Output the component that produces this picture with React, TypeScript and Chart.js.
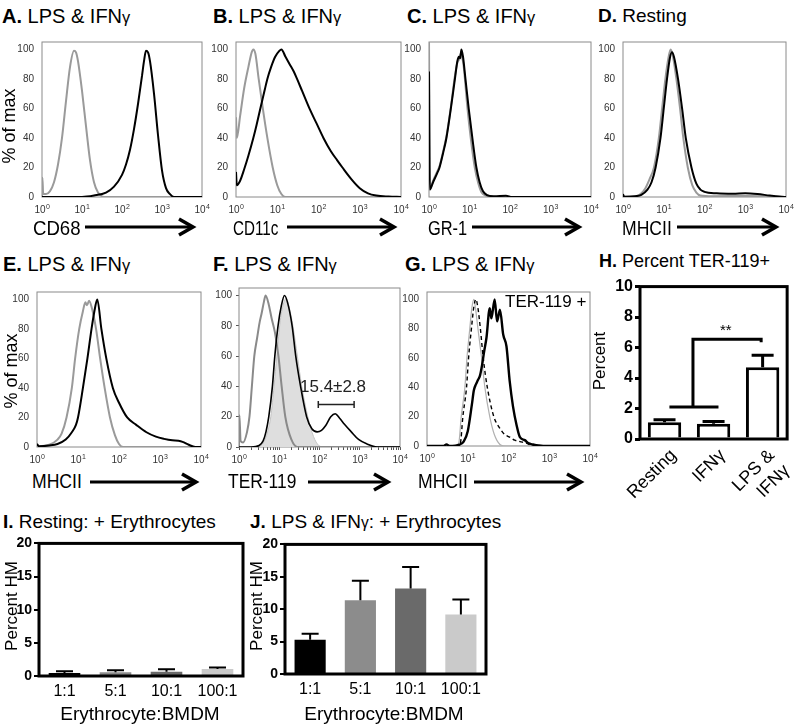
import React, { useEffect, useRef } from 'react';
import { Chart, registerables } from 'chart.js';
Chart.register(...registerables);

const FONT = '"Liberation Sans", Arial, Helvetica, sans-serif';

// ---------------- data ----------------
const X_DECADES = [1, 10, 100, 1000, 10000];
const X_EXPONENTS = ['0', '1', '2', '3', '4'];
const Y_PCT_TICKS = [0, 20, 40, 60, 80, 100];

type Pt = [number, number]; // [log10 fluorescence, % of max]

const A_ISO: Pt[] = [[0,0],[0.01,13],[0.03,2],[0.1,2],[0.2,4],[0.3,10],[0.4,22],[0.5,40],[0.6,65],[0.7,88],[0.8,99],[0.85,98],[0.9,92],[1.0,72],[1.1,48],[1.2,25],[1.3,10],[1.4,3],[1.5,0.5],[1.6,0],[4,0]];
const A_CD68: Pt[] = [[0,0],[1.0,0],[1.3,1],[1.6,3],[1.8,7],[2.0,15],[2.1,22],[2.2,32],[2.3,46],[2.4,63],[2.5,82],[2.55,92],[2.6,99],[2.65,98],[2.7,92],[2.8,70],[2.9,42],[3.0,18],[3.1,6],[3.2,2],[3.3,0],[4,0]];

const B_ISO: Pt[] = [[0,54],[0.02,40],[0.1,55],[0.2,74],[0.3,88],[0.38,98],[0.42,100],[0.47,97],[0.55,80],[0.65,60],[0.76,40],[0.89,20],[1.0,8],[1.1,2],[1.2,0],[4,0]];
const B_CD11C: Pt[] = [[0,17],[0.02,8],[0.1,11],[0.2,19],[0.3,28],[0.42,40],[0.5,49],[0.59,60],[0.7,73],[0.76,80],[0.85,88],[0.95,95],[1.05,99],[1.1,100],[1.2,95],[1.3,90],[1.4,85],[1.48,80],[1.6,72],[1.78,60],[1.95,50],[2.12,40],[2.3,31],[2.45,25],[2.58,20],[2.8,12],[3.0,6],[3.2,2.5],[3.4,1],[3.7,0.3],[4,0]];

const C_ISO: Pt[] = [[0,107],[0.02,5],[0.1,11],[0.2,17],[0.26,21],[0.35,31],[0.43,41],[0.54,61],[0.64,82],[0.7,91],[0.74,93],[0.78,97],[0.8,96],[0.85,90],[0.95,60],[1.03,40],[1.13,20],[1.22,9],[1.3,3],[1.4,1],[1.5,0],[4,0]];
const C_GR1: Pt[] = [[0,85],[0.02,5],[0.1,10],[0.2,16],[0.26,20],[0.35,30],[0.43,40],[0.54,60],[0.64,80],[0.7,92],[0.74,95],[0.77,94],[0.8,100],[0.84,95],[0.9,80],[0.98,60],[1.07,40],[1.17,20],[1.25,10],[1.33,4],[1.42,1.5],[1.6,0.5],[1.9,0.8],[2.05,0],[4,0]];

const D_ISO: Pt[] = [[0,1],[0.05,0.5],[0.3,0.5],[0.43,2],[0.55,6],[0.65,12],[0.76,20],[0.88,40],[0.96,60],[1.04,80],[1.12,95],[1.17,100],[1.22,96],[1.31,80],[1.4,60],[1.48,40],[1.59,20],[1.7,8],[1.8,3],[1.9,1],[2.2,0.5],[3.0,0.7],[3.5,0.5],[3.9,0],[4,0]];
const D_MHCII: Pt[] = [[0,2],[0.03,0],[0.3,0.5],[0.45,1.5],[0.6,5],[0.7,10],[0.8,20],[0.92,40],[1.0,60],[1.08,80],[1.15,94],[1.2,98],[1.25,95],[1.35,80],[1.45,60],[1.54,40],[1.68,20],[1.8,9],[1.9,5],[2.0,3.5],[2.3,2.5],[2.7,2.2],[3.0,2.5],[3.3,2],[3.6,1],[3.9,0.2],[4,0]];

const E_ISO: Pt[] = [[0,2],[0.05,0.5],[0.3,1.5],[0.5,5],[0.6,9],[0.72,20],[0.85,40],[0.93,60],[1.03,80],[1.12,92],[1.18,98],[1.22,96],[1.27,99],[1.33,95],[1.44,80],[1.54,60],[1.65,40],[1.78,20],[1.9,8],[2.0,2],[2.1,0],[4,0]];
const E_MHCII: Pt[] = [[0,2],[0.05,0.5],[0.3,1],[0.5,2],[0.7,5],[0.85,10],[0.95,15],[1.0,20],[1.12,40],[1.23,60],[1.33,80],[1.4,92],[1.47,100],[1.57,80],[1.69,60],[1.85,40],[2.0,30],[2.2,20],[2.42,15],[2.67,10],[2.9,7],[3.1,5.5],[3.3,4.5],[3.45,4.2],[3.55,3.5],[3.7,1.5],[3.86,0],[4,0]];

const F_ISO: Pt[] = [[0,0],[0.01,21],[0.04,4],[0.1,3],[0.2,10],[0.26,20],[0.32,40],[0.38,60],[0.45,72],[0.51,82],[0.56,88],[0.62,96],[0.66,100],[0.74,94],[0.81,85],[0.89,76],[0.98,60],[1.06,40],[1.15,20],[1.3,5],[1.45,0],[4,0]];
const F_RESTING: Pt[] = [[0.4,0],[0.55,1],[0.65,5],[0.72,11],[0.79,20],[0.87,40],[0.94,60],[1.01,80],[1.08,92],[1.17,98],[1.25,92],[1.34,80],[1.45,60],[1.56,40],[1.71,20],[1.85,7],[1.98,1],[2.1,0]];
const F_TER119: Pt[] = [[0,0],[0.3,0],[0.5,1],[0.6,4],[0.67,10],[0.74,20],[0.83,40],[0.89,60],[0.97,80],[1.05,93],[1.13,100],[1.2,96],[1.32,80],[1.41,60],[1.53,40],[1.68,20],[1.81,12],[1.94,10],[2.05,11],[2.15,14],[2.28,20],[2.39,22],[2.5,19],[2.62,15],[2.79,10],[2.97,5],[3.18,2],[3.43,0],[4,0]];
const F_GATE = { from: 1.97, to: 2.86, level: 28 };

const G_ISO: Pt[] = [[0,0],[0.7,0],[0.78,2],[0.84,20],[0.93,40],[0.98,60],[1.05,80],[1.1,94],[1.15,100],[1.19,94],[1.25,80],[1.34,60],[1.42,40],[1.54,20],[1.65,8],[1.79,1],[1.9,0],[4,0]];
const G_NEG: Pt[] = [[0,0],[0.75,0],[0.82,2],[0.88,20],[0.97,40],[1.02,60],[1.09,80],[1.15,95],[1.2,100],[1.25,94],[1.31,80],[1.38,60],[1.48,40],[1.64,20],[1.79,12],[1.9,8],[2.03,6],[2.15,4],[2.28,3],[2.44,2],[2.6,0],[4,0]];
const G_POS: Pt[] = [[0,0],[0.4,0],[0.48,1],[0.55,0],[0.8,1],[0.9,3],[1.0,10],[1.1,28],[1.15,38],[1.2,42],[1.25,45],[1.3,48],[1.35,55],[1.4,64],[1.46,74],[1.54,94],[1.58,87],[1.66,100],[1.72,85],[1.79,93],[1.87,76],[1.95,68],[2.03,44],[2.11,27],[2.2,14],[2.28,6],[2.4,4],[2.48,2],[2.6,1],[2.85,0],[4,0]];

const H_LABELS: (string | string[])[] = ['Resting', 'IFNγ', ['LPS &', 'IFNγ']];
const H_MEAN = [1.1, 1.0, 4.7];
const H_ERR = [0.17, 0.15, 0.8];
const H_SIG = { lowFrom: 0.1, lowTo: 1.1, low: 2.1, stem: 0.58, highTo: 1.97, high: 6.55, drop: 6.35, starX: 1.25, starY: 7.1 };

const HM_LABELS = ['1:1', '5:1', '10:1', '100:1'];
const HM_COLORS = ['#000000', '#8c8c8c', '#6a6a6a', '#cacaca'];
const I_MEAN = [0.45, 0.55, 0.65, 1.05];
const I_ERR = [0.25, 0.3, 0.35, 0.25];
const J_MEAN = [5.3, 11.4, 13.2, 9.2];
const J_ERR = [0.9, 3.0, 3.3, 2.3];

const X_MINOR: number[] = [];
for (let d = 1; d < 10000; d *= 10) for (let k = 1; k < 10; k++) X_MINOR.push(k * d);
X_MINOR.push(10000);

// ---------------- layout ----------------
const HP = { yw: 34, top: 4, right: 10, xh: 22 };
type Box = { x0: number; y0: number; x1: number; y1: number };
const BOX: Record<string, Box> = {
  A: { x0: 42, y0: 32, x1: 202, y1: 197 },
  B: { x0: 236, y0: 32, x1: 401, y1: 197 },
  C: { x0: 429, y0: 32, x1: 591, y1: 197 },
  D: { x0: 623, y0: 32, x1: 786, y1: 197 },
  E: { x0: 37, y0: 282, x1: 201, y1: 447 },
  F: { x0: 239, y0: 282, x1: 400, y1: 447 },
  G: { x0: 427, y0: 282, x1: 590, y1: 446 },
};

// ---------------- plugins ----------------
const framePlugin = (color: string, width: number, after: boolean) => {
  const draw = (chart: any) => {
    const { ctx, chartArea: a } = chart;
    ctx.save();
    ctx.strokeStyle = color;
    ctx.lineWidth = width;
    ctx.strokeRect(a.left, a.top, a.right - a.left, a.bottom - a.top);
    ctx.restore();
  };
  return after ? { id: 'frame', afterDraw: draw } : { id: 'frame', beforeDatasetsDraw: draw };
};

// decade labels "10^n" with a real raised exponent
const decadeLabelPlugin = {
  id: 'decades',
  afterDraw(chart: any) {
    const { ctx } = chart;
    const xs = chart.scales.x;
    const base = chart.chartArea.bottom;
    ctx.save();
    ctx.fillStyle = '#333';
    ctx.textAlign = 'left';
    ctx.textBaseline = 'alphabetic';
    X_DECADES.forEach((v, i) => {
      const cx = xs.getPixelForValue(v);
      ctx.font = `10px ${FONT}`;
      const w1 = ctx.measureText('10').width;
      ctx.font = `7px ${FONT}`;
      const w2 = ctx.measureText(X_EXPONENTS[i]).width;
      const x0 = cx - (w1 + w2) / 2;
      ctx.font = `10px ${FONT}`;
      ctx.fillText('10', x0, base + 16);
      ctx.font = `7px ${FONT}`;
      ctx.fillText(X_EXPONENTS[i], x0 + w1 + 0.5, base + 11.5);
    });
    ctx.restore();
  },
};

const errorBarPlugin = (means: number[], errs: number[], width: number, cap: number) => ({
  id: 'errbars',
  afterDatasetsDraw(chart: any) {
    const { ctx } = chart;
    const meta = chart.getDatasetMeta(0);
    const ys = chart.scales.y;
    ctx.save();
    ctx.strokeStyle = '#000';
    ctx.lineWidth = width;
    meta.data.forEach((bar: any, i: number) => {
      const x = bar.x;
      const y0 = ys.getPixelForValue(means[i]);
      const y1 = ys.getPixelForValue(means[i] + errs[i]);
      ctx.beginPath();
      ctx.moveTo(x, y0);
      ctx.lineTo(x, y1);
      ctx.moveTo(x - cap / 2, y1);
      ctx.lineTo(x + cap / 2, y1);
      ctx.stroke();
    });
    ctx.restore();
  },
});

const sigPlugin = {
  id: 'sig',
  afterDatasetsDraw(chart: any) {
    const { ctx } = chart;
    const xs = chart.scales.x, ys = chart.scales.y;
    const X = (v: number) => xs.getPixelForValue(v);
    const Y = (v: number) => ys.getPixelForValue(v);
    ctx.save();
    ctx.strokeStyle = '#000';
    ctx.lineWidth = 3;
    ctx.beginPath();
    ctx.moveTo(X(H_SIG.lowFrom), Y(H_SIG.low));
    ctx.lineTo(X(H_SIG.lowTo), Y(H_SIG.low));
    ctx.moveTo(X(H_SIG.stem), Y(H_SIG.low));
    ctx.lineTo(X(H_SIG.stem), Y(H_SIG.high));
    ctx.lineTo(X(H_SIG.highTo), Y(H_SIG.high));
    ctx.lineTo(X(H_SIG.highTo), Y(H_SIG.drop));
    ctx.stroke();
    ctx.fillStyle = '#000';
    ctx.font = `15px ${FONT}`;
    ctx.textAlign = 'center';
    ctx.textBaseline = 'middle';
    ctx.fillText('**', X(H_SIG.starX), Y(H_SIG.starY));
    ctx.restore();
  },
};

const gatePlugin = {
  id: 'gate',
  afterDatasetsDraw(chart: any) {
    const { ctx } = chart;
    const xs = chart.scales.x, ys = chart.scales.y;
    const x0 = xs.getPixelForValue(Math.pow(10, F_GATE.from));
    const x1 = xs.getPixelForValue(Math.pow(10, F_GATE.to));
    const y = ys.getPixelForValue(F_GATE.level);
    ctx.save();
    ctx.strokeStyle = '#222';
    ctx.lineWidth = 1.5;
    ctx.beginPath();
    ctx.moveTo(x0, y); ctx.lineTo(x1, y);
    ctx.moveTo(x0, y - 3.5); ctx.lineTo(x0, y + 3.5);
    ctx.moveTo(x1, y - 3.5); ctx.lineTo(x1, y + 3.5);
    ctx.stroke();
    ctx.restore();
  },
};

// ---------------- configs ----------------
type Curve = { pts: Pt[]; color: string; width: number; dash?: number[]; fill?: string };

function histConfig(curves: Curve[], frameColor: string, minor: boolean, extra: any[] = []) {
  return {
    type: 'line',
    data: {
      datasets: curves.map((c) => ({
        data: c.pts.map(([e, v]) => ({ x: Math.pow(10, e), y: v })),
        borderColor: c.color,
        borderWidth: c.width,
        borderDash: c.dash || [],
        pointRadius: 0,
        cubicInterpolationMode: 'monotone',
        fill: c.fill ? 'origin' : false,
        backgroundColor: c.fill || 'rgba(0,0,0,0)',
      })),
    },
    options: {
      responsive: false,
      animation: false,
      devicePixelRatio: 1,
      layout: { padding: { top: HP.top, right: HP.right, left: 0, bottom: 0 } },
      plugins: { legend: { display: false }, tooltip: { enabled: false } },
      scales: {
        x: {
          type: 'logarithmic',
          min: 1,
          max: 10000,
          afterBuildTicks: (s: any) => { s.ticks = (minor ? X_MINOR : X_DECADES).map((v) => ({ value: v })); },
          afterFit: (s: any) => { s.height = HP.xh; },
          ticks: { display: false },
          grid: minor
            ? { display: true, drawOnChartArea: false, drawTicks: true, tickLength: 3, color: '#555' }
            : { display: false, drawTicks: false },
          border: { display: false },
        },
        y: {
          min: 0,
          max: 105,
          afterBuildTicks: (s: any) => { s.ticks = Y_PCT_TICKS.map((v) => ({ value: v })); },
          afterFit: (s: any) => { s.width = HP.yw; },
          ticks: { padding: minor ? 4 : 8, color: '#333', font: { family: FONT, size: 10 } },
          grid: minor
            ? { display: true, drawOnChartArea: false, drawTicks: true, tickLength: 3, color: '#555' }
            : { display: false, drawTicks: false },
          border: { display: false },
        },
      },
    },
    plugins: [framePlugin(frameColor, 1, false), decadeLabelPlugin, ...extra],
  };
}

function barConfig(o: {
  labels: any[]; means: number[]; errs: number[]; bg: string | string[]; borderW: number;
  barPct: number; ymax: number; step: number; yFont: number; xFont: number; rot: number; labelOffset: number;
  yw: number; xh: number; top: number; right: number; errW: number; cap: number; tickW: number; extra?: any[];
}) {
  return {
    type: 'bar',
    data: {
      labels: o.labels,
      datasets: [{
        data: o.means,
        backgroundColor: o.bg,
        borderColor: '#000',
        borderWidth: o.borderW,
        barPercentage: o.barPct,
        categoryPercentage: 1,
      }],
    },
    options: {
      responsive: false,
      animation: false,
      devicePixelRatio: 1,
      layout: { padding: { top: o.top, right: o.right, left: 0, bottom: 0 } },
      plugins: { legend: { display: false }, tooltip: { enabled: false } },
      scales: {
        x: {
          type: 'category',
          afterFit: (s: any) => { s.height = o.xh; },
          ticks: {
            autoSkip: false, minRotation: o.rot, maxRotation: o.rot, padding: 6, labelOffset: o.labelOffset,
            color: '#000', font: { family: FONT, size: o.xFont },
          },
          grid: { display: false, drawTicks: false },
          border: { display: false },
        },
        y: {
          min: 0,
          max: o.ymax,
          afterFit: (s: any) => { s.width = o.yw; },
          ticks: { stepSize: o.step, padding: 2, color: '#000', font: { family: FONT, size: o.yFont, weight: 'bold' } },
          grid: { display: true, drawOnChartArea: false, drawTicks: true, tickLength: 5, lineWidth: o.tickW, color: '#000' },
          border: { display: false },
        },
      },
    },
    plugins: [errorBarPlugin(o.means, o.errs, o.errW, o.cap), framePlugin('#000', 3, true), ...(o.extra || [])],
  };
}

// ---------------- components ----------------
function ChartCanvas({ left, top, width, height, make }: { left: number; top: number; width: number; height: number; make: () => any }) {
  const ref = useRef<HTMLCanvasElement>(null);
  useEffect(() => {
    const chart = new Chart(ref.current as HTMLCanvasElement, make());
    return () => chart.destroy();
  }, []);
  return (
    <canvas
      ref={ref}
      width={width}
      height={height}
      style={{ position: 'absolute', left, top, width, height }}
    />
  );
}

function Hist({ box, make }: { box: Box; make: () => any }) {
  const left = box.x0 - HP.yw;
  const top = box.y0 - HP.top;
  const width = box.x1 - box.x0 + HP.yw + HP.right;
  const height = box.y1 - box.y0 + HP.top + HP.xh;
  return <ChartCanvas left={left} top={top} width={width} height={height} make={make} />;
}

const Gam = () => <span style={{ fontSize: '0.82em' }}>γ</span>;

function Title({ x, y, letter, children, size = 19 }: { x: number; y: number; letter: string; children: any; size?: number }) {
  return (
    <div style={{ position: 'absolute', left: x, top: y, fontSize: size, lineHeight: `${size}px`, whiteSpace: 'nowrap', color: '#000' }}>
      <b>{letter}</b> {children}
    </div>
  );
}

function Txt({ x, y, size, children, color = '#000', squeeze = 1 }: { x: number; y: number; size: number; children: any; color?: string; squeeze?: number }) {
  return (
    <div style={{ position: 'absolute', left: x, top: y, fontSize: size, lineHeight: `${size}px`, whiteSpace: 'nowrap', color, transform: `scaleX(${squeeze})`, transformOrigin: 'left center' }}>
      {children}
    </div>
  );
}

function VTxt({ cx, cy, size, children }: { cx: number; cy: number; size: number; children: any }) {
  return (
    <div style={{ position: 'absolute', left: cx, top: cy, fontSize: size, lineHeight: 1, whiteSpace: 'nowrap', transform: 'translate(-50%, -50%) rotate(-90deg)' }}>
      {children}
    </div>
  );
}

function CTxt({ cx, y, size, children }: { cx: number; y: number; size: number; children: any }) {
  return (
    <div style={{ position: 'absolute', left: cx, top: y, fontSize: size, lineHeight: `${size}px`, whiteSpace: 'nowrap', transform: 'translateX(-50%)' }}>
      {children}
    </div>
  );
}

const ARROWS = [
  { x1: 85, x2: 193, y: 227 },
  { x1: 287, x2: 394, y: 227 },
  { x1: 472, x2: 579, y: 227 },
  { x1: 677, x2: 776, y: 227 },
  { x1: 90, x2: 196, y: 482 },
  { x1: 308, x2: 388, y: 482 },
  { x1: 474, x2: 581, y: 482 },
];

export default function App() {
  const grayIso = '#9a9a9a';
  const AX = 20;
  return (
    <div style={{ position: 'absolute', left: 0, top: 0, width: 800, height: 728, background: '#fff', fontFamily: FONT, overflow: 'hidden' }}>
      {/* Row 1 */}
      <Hist box={BOX.A} make={() => histConfig([
        { pts: A_CD68, color: '#000', width: 2 },
        { pts: A_ISO, color: grayIso, width: 2 },
      ], '#8a8a8a', false)} />
      <Hist box={BOX.B} make={() => histConfig([
        { pts: B_CD11C, color: '#000', width: 2 },
        { pts: B_ISO, color: grayIso, width: 2 },
      ], '#8a8a8a', false)} />
      <Hist box={BOX.C} make={() => histConfig([
        { pts: C_GR1, color: '#000', width: 2 },
        { pts: C_ISO, color: grayIso, width: 2 },
      ], '#8a8a8a', false)} />
      <Hist box={BOX.D} make={() => histConfig([
        { pts: D_MHCII, color: '#000', width: 2 },
        { pts: D_ISO, color: grayIso, width: 2 },
      ], '#8a8a8a', false)} />

      {/* Row 2 */}
      <Hist box={BOX.E} make={() => histConfig([
        { pts: E_MHCII, color: '#000', width: 2 },
        { pts: E_ISO, color: grayIso, width: 2 },
      ], '#8a8a8a', false)} />
      <Hist box={BOX.F} make={() => histConfig([
        { pts: F_TER119, color: '#000', width: 1.6 },
        { pts: F_ISO, color: '#8a8a8a', width: 2 },
        { pts: F_RESTING, color: '#c4c4c4', width: 1, fill: '#dedede' },
      ], '#8a8a8a', true, [gatePlugin])} />
      <Hist box={BOX.G} make={() => histConfig([
        { pts: G_POS, color: '#000', width: 2.4 },
        { pts: G_NEG, color: '#000', width: 1.4, dash: [4, 3] },
        { pts: G_ISO, color: '#b0b0b0', width: 1.2 },
      ], '#8a8a8a', false)} />

      <ChartCanvas left={590} top={275} width={210} height={234} make={() => barConfig({
        labels: H_LABELS, means: H_MEAN, errs: H_ERR, bg: '#ffffff', borderW: 3, barPct: 0.68,
        ymax: 10, step: 2, yFont: 16, xFont: 18, rot: 45, labelOffset: 9, yw: 50, xh: 70, top: 8, right: 5,
        errW: 3, cap: 22, tickW: 3, extra: [sigPlugin],
      })} />

      {/* Row 3 */}
      <ChartCanvas left={9} top={533} width={244} height={173} make={() => barConfig({
        labels: HM_LABELS, means: I_MEAN, errs: I_ERR, bg: HM_COLORS, borderW: 0, barPct: 0.62,
        ymax: 20, step: 5, yFont: 14, xFont: 16, rot: 0, labelOffset: 0, yw: 30, xh: 30, top: 8, right: 10,
        errW: 2, cap: 17, tickW: 2,
      })} />
      <ChartCanvas left={255} top={534} width={241} height={170} make={() => barConfig({
        labels: HM_LABELS, means: J_MEAN, errs: J_ERR, bg: HM_COLORS, borderW: 0, barPct: 0.62,
        ymax: 20, step: 5, yFont: 14, xFont: 16, rot: 0, labelOffset: 0, yw: 30, xh: 30, top: 8, right: 10,
        errW: 2, cap: 17, tickW: 2,
      })} />

      {/* Titles */}
      <Title x={2} y={6} letter="A." size={20}>LPS &amp; IFN<Gam /></Title>
      <Title x={213} y={6} letter="B." size={20}>LPS &amp; IFN<Gam /></Title>
      <Title x={407} y={6} letter="C." size={20}>LPS &amp; IFN<Gam /></Title>
      <Title x={598} y={6} letter="D.">Resting</Title>
      <Title x={3} y={254} letter="E." size={20}>LPS &amp; IFN<Gam /></Title>
      <Title x={213} y={254} letter="F." size={20}>LPS &amp; IFN<Gam /></Title>
      <Title x={405} y={254} letter="G." size={20}>LPS &amp; IFN<Gam /></Title>
      <Title x={599} y={252} letter="H." size={18}>Percent TER-119+</Title>
      <Title x={3} y={512} letter="I.">Resting: + Erythrocytes</Title>
      <Title x={250} y={512} letter="J.">LPS &amp; IFN<Gam />: + Erythrocytes</Title>

      {/* Axis labels with arrows */}
      <Txt x={33} y={218} size={AX} squeeze={0.93}>CD68</Txt>
      <Txt x={233} y={218} size={AX} squeeze={0.76}>CD11c</Txt>
      <Txt x={428} y={218} size={AX} squeeze={0.82}>GR-1</Txt>
      <Txt x={622} y={218} size={AX} squeeze={0.88}>MHCII</Txt>
      <Txt x={32} y={471} size={AX} squeeze={0.88}>MHCII</Txt>
      <Txt x={228} y={471} size={AX} squeeze={0.87}>TER-119</Txt>
      <Txt x={418} y={471} size={AX} squeeze={0.88}>MHCII</Txt>
      <svg width={800} height={728} style={{ position: 'absolute', left: 0, top: 0, pointerEvents: 'none' }}>
        {ARROWS.map((a, i) => (
          <g key={i} stroke="#000" fill="none" strokeWidth={3}>
            <line x1={a.x1} y1={a.y} x2={a.x2 - 1} y2={a.y} />
            <polyline points={`${a.x2 - 14},${a.y - 8} ${a.x2},${a.y} ${a.x2 - 14},${a.y + 8}`} strokeWidth={3.5} strokeLinejoin="miter" />
          </g>
        ))}
      </svg>

      {/* Y titles */}
      <VTxt cx={9} cy={126} size={18}>% of max</VTxt>
      <VTxt cx={11} cy={371} size={18}>% of max</VTxt>
      <VTxt cx={599} cy={361} size={17}>Percent</VTxt>
      <VTxt cx={11} cy={606} size={17}>Percent HM</VTxt>
      <VTxt cx={256} cy={606} size={17}>Percent HM</VTxt>

      {/* Annotations */}
      <Txt x={300} y={378} size={17} color="#222">15.4±2.8</Txt>
      <Txt x={505} y={293} size={17}>TER-119 +</Txt>

      {/* X titles of bar charts */}
      <CTxt cx={140} y={704} size={19}>Erythrocyte:BMDM</CTxt>
      <CTxt cx={384} y={704} size={19}>Erythrocyte:BMDM</CTxt>
    </div>
  );
}
